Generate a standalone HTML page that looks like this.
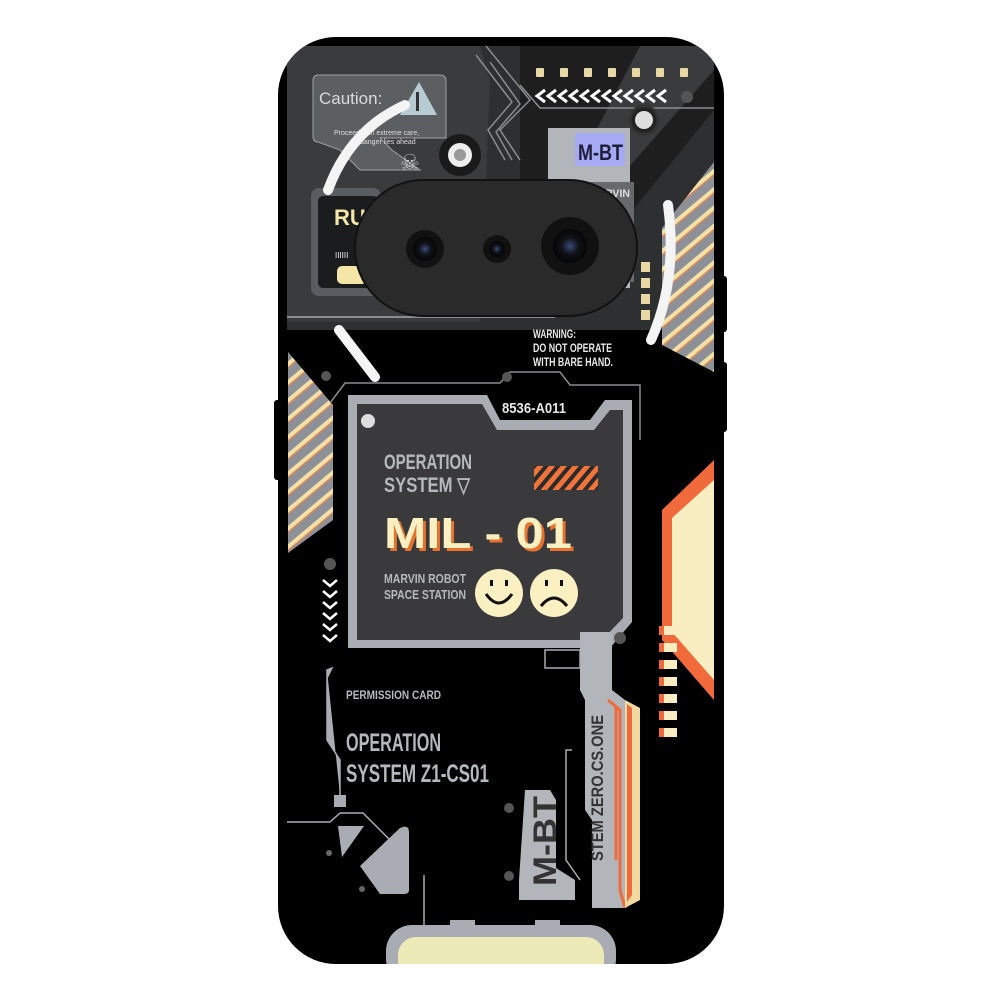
<!DOCTYPE html>
<html><head><meta charset="utf-8"><style>
html,body{margin:0;padding:0;background:#fff;width:1000px;height:1000px;overflow:hidden}
svg{display:block}
.n{font-family:"Liberation Sans",sans-serif;font-weight:bold}
</style></head><body>
<svg width="1000" height="1000" viewBox="0 0 1000 1000" xmlns="http://www.w3.org/2000/svg">
<defs>
<pattern id="st" width="14" height="14" patternUnits="userSpaceOnUse" patternTransform="rotate(-40)">
<rect width="14" height="14" fill="#8d9096"/><rect y="0" width="14" height="4" fill="#f3e1a8"/><rect y="4" width="14" height="1.5" fill="#d98a5a"/>
</pattern>
<pattern id="os" width="9" height="9" patternUnits="userSpaceOnUse" patternTransform="rotate(40)">
<rect width="9" height="9" fill="#2b2b2b"/><rect width="5" height="9" fill="#f0743a"/>
</pattern>
<radialGradient id="lens" cx="50%" cy="50%" r="50%"><stop offset="0" stop-color="#3a4a78"/><stop offset="0.5" stop-color="#101218"/><stop offset="1" stop-color="#050505"/></radialGradient>
<clipPath id="ph"><rect x="278" y="37" width="446" height="927" rx="58"/></clipPath>
</defs>
<rect x="719" y="276" width="8" height="56" rx="3" fill="#000"/>
<rect x="719" y="362" width="8" height="70" rx="3" fill="#000"/>
<rect x="274" y="400" width="8" height="80" rx="3" fill="#000"/>
<rect x="278" y="37" width="446" height="927" rx="58" fill="#000"/>
<g clip-path="url(#ph)">
<path d="M287 60 Q287 47 320 46 L700 46 Q714 50 714 80 L714 330 L287 330 Z" fill="#2e2f31"/>
<path d="M287 46 L480 46 L490 82 L480 322 L287 322Z" fill="#3a3b3d"/>
<path d="M520 46 L714 46 L714 110 L560 300 L520 300Z" fill="#1e1e1f"/>
<path d="M640 46 L714 46 L714 70 L600 200 L560 200Z" fill="#3a3b3c"/>
<line x1="287" y1="317" x2="555" y2="317" stroke="#8a8c90" stroke-width="2"/>
<path d="M486 46 L530 100 L500 130 L520 160" fill="none" stroke="#8a8c90" stroke-width="1.5"/>
<path d="M476 55 L512 102 L488 130 L505 160" fill="none" stroke="#8a8c90" stroke-width="1.5"/>
<path d="M490 62 L520 104 L496 132 L512 160" fill="none" stroke="#8a8c90" stroke-width="1.5"/>
<path d="M520 85 L540 108 L714 108" fill="none" stroke="#8a8c90" stroke-width="1.5"/>
<path d="M318 75 L440 75 Q446 75 446 81 L446 138 L380 138 L392 150 L420 170 L360 170 L340 150 L318 142 Q313 142 313 136 L313 81 Q313 75 318 75Z" fill="#5c5f62" stroke="#9ea1a4" stroke-width="1"/>
<text x="319" y="104" font-family="Liberation Sans,sans-serif" font-size="17" fill="#d8dadc">Caution:</text>
<path d="M419 82 L437 115 L400 115Z" fill="#b7cbd2"/>
<rect x="416" y="92" width="3" height="19" fill="#333"/>
<text x="334" y="135" font-family="Liberation Sans,sans-serif" font-size="7" fill="#ddd">Proceed with extreme care,</text>
<text x="360" y="144" font-family="Liberation Sans,sans-serif" font-size="7" fill="#ddd">danger lies ahead</text>
<text x="400" y="170" font-family="DejaVu Sans,sans-serif" font-size="22" fill="#c8c8c8">☠</text>
<rect x="311" y="188" width="70" height="108" rx="8" fill="#5d6064" opacity="0.9"/>
<rect x="318" y="196" width="60" height="92" rx="5" fill="#1b1c1d"/>
<text x="334" y="225" class="n" font-size="22" fill="#f3e6a6">RU</text>
<text x="335" y="258" font-family="Liberation Sans,sans-serif" font-size="8" fill="#eee">IIIIII</text>
<rect x="337" y="266" width="30" height="18" rx="5" fill="#f3e6a6"/>
<rect x="548" y="128" width="82" height="160" fill="#b2b5ba"/>
<rect x="560" y="182" width="74" height="100" fill="#67696d"/>
<rect x="575" y="133" width="50" height="33" rx="3" fill="#a6a9f4"/>
<text x="578" y="160" class="n" font-size="22" fill="#1e1f3a" textLength="45" lengthAdjust="spacingAndGlyphs">M-BT</text>
<text x="605" y="197" class="n" font-size="11" fill="#ddd" textLength="25" lengthAdjust="spacingAndGlyphs">RVIN</text>
<g fill="#e9d7a4"><rect x="536" y="68" width="8" height="9" rx="1"/><rect x="560" y="68" width="8" height="9" rx="1"/><rect x="584" y="68" width="8" height="9" rx="1"/><rect x="608" y="68" width="8" height="9" rx="1"/><rect x="632" y="68" width="8" height="9" rx="1"/><rect x="656" y="68" width="8" height="9" rx="1"/><rect x="680" y="68" width="8" height="9" rx="1"/></g>
<path d="M545 90 L537 96 L545 102 M556 90 L548 96 L556 102 M567 90 L559 96 L567 102 M578 90 L570 96 L578 102 M589 90 L581 96 L589 102 M600 90 L592 96 L600 102 M611 90 L603 96 L611 102 M622 90 L614 96 L622 102 M633 90 L625 96 L633 102 M644 90 L636 96 L644 102 M655 90 L647 96 L655 102 M666 90 L658 96 L666 102" fill="none" stroke="#fff" stroke-width="3"/>
<circle cx="687" cy="97" r="6" fill="#555"/>
<circle cx="644" cy="120" r="14" fill="#222" stroke="#333" stroke-width="3"/><circle cx="644" cy="120" r="9" fill="#ddd"/>
<circle cx="460" cy="155" r="21" fill="#1a1a1a"/><circle cx="460" cy="155" r="12" fill="#eee"/><circle cx="460" cy="155" r="6" fill="#999"/>
<polygon points="662,228 714,162 714,372 662,345" fill="url(#st)"/>
<g fill="#e9d7a4"><rect x="641" y="262" width="9" height="10"/><rect x="641" y="278" width="9" height="10"/><rect x="641" y="294" width="9" height="10"/><rect x="641" y="310" width="9" height="10"/></g>
<rect x="355" y="180" width="282" height="136" rx="68" fill="#2a2a2b" stroke="#111" stroke-width="2"/>
<circle cx="425" cy="249" r="19" fill="#111"/><circle cx="425" cy="249" r="12" fill="url(#lens)"/>
<circle cx="497" cy="249" r="14" fill="#111"/><circle cx="497" cy="249" r="8" fill="url(#lens)"/>
<circle cx="570" cy="246" r="29" fill="#111"/><circle cx="570" cy="246" r="17" fill="url(#lens)"/>
<path d="M328 190 Q350 130 405 105" fill="none" stroke="#f4f4f4" stroke-width="10" stroke-linecap="round"/>
<path d="M668 205 Q678 280 651 340" fill="none" stroke="#f4f4f4" stroke-width="10" stroke-linecap="round"/>
<line x1="339" y1="330" x2="375" y2="377" stroke="#f4f4f4" stroke-width="10" stroke-linecap="round"/>
<text x="533" y="338" class="n" font-size="12" fill="#e8e8e8" textLength="43" lengthAdjust="spacingAndGlyphs">WARNING:</text>
<text x="533" y="352" class="n" font-size="12" fill="#e8e8e8" textLength="79" lengthAdjust="spacingAndGlyphs">DO NOT OPERATE</text>
<text x="533" y="366" class="n" font-size="12" fill="#e8e8e8" textLength="80" lengthAdjust="spacingAndGlyphs">WITH BARE HAND.</text>
<polygon points="288,352 333,405 333,520 288,553" fill="url(#st)"/>
<path d="M330 403 L345 383 L500 383 L510 372 L560 372 L570 385 L640 385 L640 440" fill="none" stroke="#8a8c90" stroke-width="1.5"/>
<circle cx="326" cy="376" r="5" fill="#555"/><circle cx="507" cy="377" r="5" fill="#555"/>
<path d="M348 395 L487 395 L500 420 L590 420 L605 400 L632 400 L632 622 L610 648 L348 648 Z" fill="#a9acb2"/>
<path d="M357 404 L482 404 L497 430 L594 430 L610 410 L623 410 L623 618 L602 640 L357 640 Z" fill="#3a3a3c"/>
<text x="502" y="413" class="n" font-size="15" fill="#e6e6e6" textLength="64" lengthAdjust="spacingAndGlyphs">8536-A011</text>
<circle cx="368" cy="421" r="7" fill="#ddd"/>
<text x="384" y="469" class="n" font-size="21" fill="#b5b8bd" textLength="88" lengthAdjust="spacingAndGlyphs">OPERATION</text>
<text x="384" y="492" class="n" font-size="21" fill="#b5b8bd" textLength="86" lengthAdjust="spacingAndGlyphs">SYSTEM ▽</text>
<rect x="534" y="466" width="64" height="24" fill="url(#os)"/>
<text x="387" y="551" font-family="Liberation Sans,sans-serif" font-weight="bold" font-size="44" fill="#e8722e" textLength="188" lengthAdjust="spacingAndGlyphs">MIL - 01</text>
<text x="384" y="548" font-family="Liberation Sans,sans-serif" font-weight="bold" font-size="44" fill="#fbf0c2" textLength="188" lengthAdjust="spacingAndGlyphs">MIL - 01</text>
<text x="384" y="583" class="n" font-size="13" fill="#b5b8bd" textLength="82" lengthAdjust="spacingAndGlyphs">MARVIN ROBOT</text>
<text x="384" y="599" class="n" font-size="13" fill="#b5b8bd" textLength="82" lengthAdjust="spacingAndGlyphs">SPACE STATION</text>
<circle cx="499" cy="593" r="24" fill="#fbf0c2"/>
<path d="M486 594 Q499 612 512 594" fill="none" stroke="#111" stroke-width="3"/><rect x="490" y="580" width="3" height="6" fill="#111"/><rect x="505" y="580" width="3" height="6" fill="#111"/>
<circle cx="554" cy="593" r="24" fill="#fbf0c2"/>
<path d="M541 606 Q554 590 567 606" fill="none" stroke="#111" stroke-width="3"/><rect x="545" y="580" width="3" height="6" fill="#111"/><rect x="560" y="580" width="3" height="6" fill="#111"/>
<polygon points="714,460 714,700 662,640 662,510" fill="#f06a3c"/>
<polygon points="714,480 714,680 672,632 672,518" fill="#f8eec2"/>
<g><rect x="659" y="626" width="18" height="9" fill="#f8eec2"/><rect x="659" y="643" width="18" height="9" fill="#f8eec2"/><rect x="659" y="660" width="18" height="9" fill="#f8eec2"/><rect x="659" y="677" width="18" height="9" fill="#f8eec2"/><rect x="659" y="694" width="18" height="9" fill="#f8eec2"/><rect x="659" y="711" width="18" height="9" fill="#f8eec2"/><rect x="659" y="728" width="18" height="9" fill="#f8eec2"/></g>
<g fill="#f06a3c"><rect x="659" y="626" width="5" height="9"/><rect x="659" y="643" width="5" height="9"/><rect x="659" y="660" width="5" height="9"/><rect x="659" y="677" width="5" height="9"/><rect x="659" y="694" width="5" height="9"/><rect x="659" y="711" width="5" height="9"/><rect x="659" y="728" width="5" height="9"/></g>
<circle cx="330" cy="564" r="6" fill="#555"/>
<path d="M323 580 L330 586 L337 580 M323 591 L330 597 L337 591 M323 602 L330 608 L337 602 M323 613 L330 619 L337 613 M323 624 L330 630 L337 624 M323 635 L330 641 L337 635" fill="none" stroke="#fff" stroke-width="2.5"/>
<path d="M327 670 L332 668 L327 678Z M327 670 L327 740 L340 760 L340 795" fill="#a9acb2" stroke="#a9acb2" stroke-width="1.5"/>
<text x="346" y="699" class="n" font-size="12" fill="#b5b8bd" textLength="95" lengthAdjust="spacingAndGlyphs">PERMISSION CARD</text>
<text x="346" y="751" class="n" font-size="25" fill="#b5b8bd" textLength="95" lengthAdjust="spacingAndGlyphs">OPERATION</text>
<text x="346" y="782" class="n" font-size="25" fill="#b5b8bd" textLength="143" lengthAdjust="spacingAndGlyphs">SYSTEM Z1-CS01</text>
<rect x="334" y="795" width="12" height="12" fill="#a9acb2"/>
<path d="M287 822 L330 822 L340 813 L363 813 L390 840 M424 875 L424 930" fill="none" stroke="#a9acb2" stroke-width="1.5"/>
<polygon points="338,826 364,826 342,857" fill="#a9acb2"/>
<path d="M360 866 L400 828 Q409 824 409 832 L409 890 Q409 894 404 894 L380 894Z" fill="#a9acb2"/>
<circle cx="329" cy="853" r="3" fill="#666"/><circle cx="362" cy="889" r="3" fill="#666"/>
<path d="M580 632 L612 632 L612 690 L625 700 L625 908 L592 908 L592 820 L585 810 L585 700 L580 690Z" fill="#b2b5ba"/>
<path d="M545 650 L580 650 L580 668 L545 668Z" fill="none" stroke="#a9acb2" stroke-width="1.5"/>
<circle cx="620" cy="638" r="6" fill="#555"/>
<polyline points="608,700 620,710 620,890 625,908" fill="none" stroke="#f06a3c" stroke-width="3"/>
<line x1="616" y1="706" x2="616" y2="860" stroke="#f06a3c" stroke-width="3"/>
<path d="M625 700 L640 708 L640 900 L625 908Z" fill="#f1d9a0"/>
<path d="M627 704 L632 708 L632 895 L627 902Z" fill="#f06a3c"/>
<text transform="translate(603,861) rotate(-90)" class="n" font-size="17" fill="#333" textLength="146" lengthAdjust="spacingAndGlyphs">STEM ZERO.CS.ONE</text>
<path d="M572 750 L566 750 L566 860 L580 880" fill="none" stroke="#a9acb2" stroke-width="1.5"/>
<path d="M525 790 L550 790 L556 800 L556 868 L575 880 L575 900 L519 900 L519 880Z" fill="#b2b5ba"/>
<text transform="translate(556,886) rotate(-90)" class="n" font-size="32" fill="#333" textLength="90" lengthAdjust="spacingAndGlyphs">M-BT</text>
<circle cx="509" cy="808" r="5" fill="#555"/><circle cx="509" cy="876" r="5" fill="#555"/>
<rect x="386" y="925" width="230" height="60" rx="26" fill="#a9acb2"/>
<rect x="398" y="937" width="206" height="50" rx="18" fill="#ecebb8"/>
<rect x="450" y="920" width="25" height="6" fill="#a9acb2"/><rect x="535" y="920" width="25" height="6" fill="#a9acb2"/>
</g>
</svg>
</body></html>
